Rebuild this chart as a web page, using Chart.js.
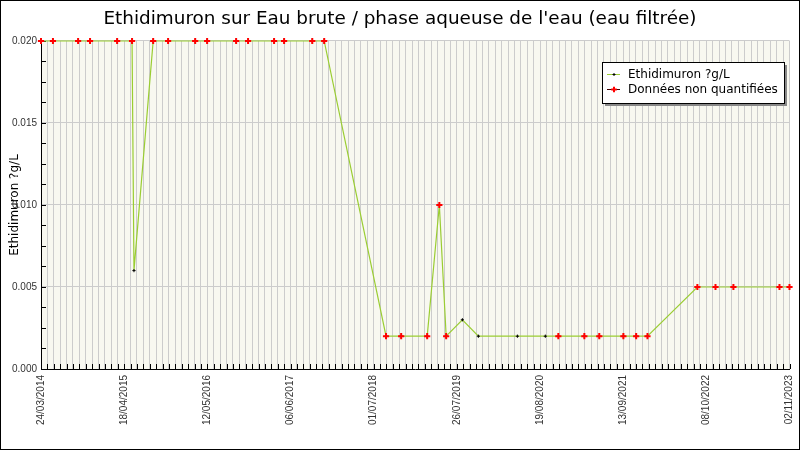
<!DOCTYPE html>
<html>
<head>
<meta charset="utf-8">
<script src="https://cdn.jsdelivr.net/npm/chart.js@4.4.1/dist/chart.umd.min.js"></script>
<style>
  body { margin: 0; background: #fff; }
</style>
</head>
<body>
<canvas id="myChart" width="800" height="450"></canvas>
<script>
// sampling dates and measured values (µg/L, shown as ?g/L in the source)
const sampleDates = [
  "2014-03-24", "2014-05-19", "2014-09-14", "2014-11-09", "2015-03-16", "2015-05-25",
  "2015-06-03", "2015-09-01", "2015-11-10", "2016-03-16", "2016-05-11", "2016-09-24",
  "2016-11-19", "2017-03-21", "2017-05-07", "2017-09-16", "2017-11-11", "2018-08-28",
  "2018-11-07", "2019-03-09", "2019-05-05", "2019-06-06", "2019-08-21", "2019-11-04",
  "2020-05-05", "2020-09-13", "2020-11-13", "2021-03-15", "2021-05-24", "2021-09-14",
  "2021-11-13", "2022-01-05", "2022-08-27", "2022-11-20", "2023-02-12", "2023-09-16",
  "2023-11-02"
];
const ethidimuron = [
  0.020, 0.020, 0.020, 0.020, 0.020, 0.020,
  0.006, 0.020, 0.020, 0.020, 0.020, 0.020,
  0.020, 0.020, 0.020, 0.020, 0.020, 0.002,
  0.002, 0.002, 0.010, 0.002, 0.003, 0.002,
  0.002, 0.002, 0.002, 0.002, 0.002, 0.002,
  0.002, 0.002, 0.005, 0.005, 0.005, 0.005,
  0.005
];
// 1 = quantified, 0 = "données non quantifiées"
const quantified = [
  0, 0, 0, 0, 0, 0,
  1, 0, 0, 0, 0, 0,
  0, 0, 0, 0, 0, 0,
  0, 0, 0, 0, 1, 1,
  1, 1, 0, 0, 0, 0,
  0, 0, 0, 0, 0, 0,
  0
];
const startDate = "2014-03-24";
const endDate = "2023-11-02";
const labelStepDays = 390;
const gridStepDays = 30;
const yMax = 0.020;
const yLabelStep = 0.005;
const yMinorStep = 0.00125;

const dayMs = 86400000;
const t0 = Date.parse(startDate + "T00:00:00Z");
function toDay(s) {
  return Math.round((Date.parse(s + "T00:00:00Z") - t0) / dayMs);
}
function fmtDay(day) {
  const d = new Date(t0 + day * dayMs);
  const dd = String(d.getUTCDate()).padStart(2, "0");
  const mm = String(d.getUTCMonth() + 1).padStart(2, "0");
  return dd + "/" + mm + "/" + d.getUTCFullYear();
}
function isMultiple(v, step) {
  const r = v / step;
  return Math.abs(r - Math.round(r)) < 1e-6;
}

const allPoints = sampleDates.map((d, i) => ({ x: toDay(d), y: ethidimuron[i] }));
const nqPoints = allPoints.filter((p, i) => !quantified[i]);

const bgPlugin = {
  id: "bg",
  beforeDraw(chart) {
    const ctx = chart.ctx;
    const a = chart.chartArea;
    ctx.save();
    ctx.fillStyle = "#fff";
    ctx.fillRect(0, 0, chart.width, chart.height);
    ctx.fillStyle = "#f8f8f0";
    ctx.fillRect(a.left, a.top, a.right - a.left, a.bottom - a.top);
    ctx.restore();
  },
  beforeDatasetsDraw(chart) {
    // tick marks pointing inside the plot
    const ctx = chart.ctx;
    const a = chart.chartArea;
    ctx.save();
    ctx.strokeStyle = "#000";
    ctx.lineWidth = 1;
    ctx.beginPath();
    chart.scales.x.ticks.forEach(t => {
      const px = Math.round(chart.scales.x.getPixelForValue(t.value)) + 0.5;
      ctx.moveTo(px, a.bottom);
      ctx.lineTo(px, a.bottom - 5);
    });
    chart.scales.y.ticks.forEach(t => {
      const py = Math.round(chart.scales.y.getPixelForValue(t.value)) + 0.5;
      ctx.moveTo(a.left, py);
      ctx.lineTo(a.left + 5, py);
    });
    ctx.stroke();
    ctx.restore();
  },
  afterDraw(chart) {
    const ctx = chart.ctx;
    ctx.save();
    // legend box
    const lx = 602, ly = 62, lw = 182, lh = 41;
    ctx.fillStyle = "#888";
    ctx.fillRect(lx + 3, ly + 3, lw, lh);
    ctx.fillStyle = "#fff";
    ctx.fillRect(lx, ly, lw, lh);
    ctx.strokeStyle = "#000";
    ctx.lineWidth = 1;
    ctx.strokeRect(lx + 0.5, ly + 0.5, lw, lh);

    const ds = chart.data.datasets;
    const rows = [
      { y: ly + 12.5, line: ds[1].borderColor, mark: "#000", w: 1, r: 1.5, text: ds[1].label },
      { y: ly + 27.5, line: "#400000", mark: "#f00", w: 2, r: 2.8, text: ds[0].label }
    ];
    rows.forEach(row => {
      ctx.strokeStyle = row.line;
      ctx.lineWidth = 1;
      ctx.beginPath();
      ctx.moveTo(607, row.y);
      ctx.lineTo(620, row.y);
      ctx.stroke();
      ctx.strokeStyle = row.mark;
      ctx.lineWidth = row.w;
      ctx.beginPath();
      ctx.moveTo(614 - row.r, row.y);
      ctx.lineTo(614 + row.r, row.y);
      ctx.moveTo(614, row.y - row.r);
      ctx.lineTo(614, row.y + row.r);
      ctx.stroke();
      ctx.fillStyle = "#000";
      ctx.font = "12px 'DejaVu Sans'";
      ctx.textBaseline = "middle";
      ctx.fillText(row.text, 628, row.y);
    });

    // outer frame
    ctx.strokeStyle = "#000";
    ctx.lineWidth = 1;
    ctx.strokeRect(0.5, 0.5, chart.width - 1, chart.height - 1);
    ctx.restore();
  }
};

const config = {
  type: "scatter",
  data: {
    datasets: [
      {
        label: "Données non quantifiées",
        data: nqPoints,
        showLine: false,
        clip: false,
        pointStyle: "cross",
        pointRadius: 3.1,
        pointBorderWidth: 2,
        pointBorderColor: "#ff0000",
        pointBackgroundColor: "#ff0000",
        order: 0
      },
      {
        label: "Ethidimuron ?g/L",
        data: allPoints,
        showLine: true,
        clip: false,
        borderColor: "#9acd32",
        borderWidth: 1.2,
        tension: 0,
        pointStyle: "cross",
        pointRadius: 1.6,
        pointBorderWidth: 1,
        pointBorderColor: "#000",
        pointBackgroundColor: "#000",
        order: 1
      }
    ]
  },
  options: {
    responsive: false,
    animation: false,
    devicePixelRatio: 1,
    layout: { padding: 0 },
    plugins: {
      legend: { display: false },
      tooltip: { enabled: false },
      title: {
        display: true,
        text: "Ethidimuron sur Eau brute / phase aqueuse de l'eau (eau filtrée)",
        color: "#000",
        font: { family: "'DejaVu Sans'", size: 18.4, weight: "normal" },
        padding: { top: 8, bottom: 10.9 }
      }
    },
    scales: {
      x: {
        type: "linear",
        min: toDay(startDate),
        max: toDay(endDate),
        border: { color: "#000", width: 1 },
        grid: { color: "#cccccc", drawTicks: false, lineWidth: 1 },
        ticks: {
          stepSize: gridStepDays,
          autoSkip: false,
          maxRotation: 90,
          minRotation: 90,
          padding: 6,
          color: "#333",
          font: { family: "'Liberation Sans'", size: 10 },
          callback: v => (v % labelStepDays === 0 ? fmtDay(v) : "")
        },
        afterFit(scale) {
          scale.height = 81;
          scale.paddingLeft = 0;
          scale.paddingRight = 10.5;
        }
      },
      y: {
        min: 0,
        max: yMax,
        border: { color: "#000", width: 1 },
        grid: {
          drawTicks: false,
          lineWidth: 1,
          color: c => (isMultiple(c.tick.value, yLabelStep) && c.tick.value > 0 ? "#cccccc" : "rgba(0,0,0,0)")
        },
        ticks: {
          stepSize: yMinorStep,
          autoSkip: false,
          padding: 4,
          color: "#333",
          font: { family: "'Liberation Sans'", size: 10 },
          callback: v => (isMultiple(v, yLabelStep) ? v.toFixed(3) : "")
        },
        title: {
          display: true,
          text: "Ethidimuron ?g/L",
          color: "#000",
          font: { family: "'DejaVu Sans'", size: 12 },
          padding: { top: 8, bottom: 0 }
        },
        afterFit(scale) {
          scale.width = 41;
          scale.paddingTop = 0;
          scale.paddingBottom = 0;
        }
      }
    }
  },
  plugins: [bgPlugin]
};

const myChart = new Chart(document.getElementById("myChart"), config);
</script>
</body>
</html>
